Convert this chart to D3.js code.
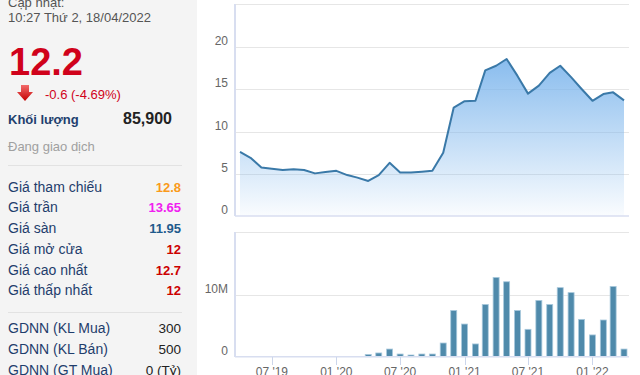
<!DOCTYPE html>
<html>
<head>
<meta charset="utf-8">
<script src="https://cdn.jsdelivr.net/npm/d3@7"></script>
<style>
  html, body { margin: 0; padding: 0; background: #fff; }
  svg { display: block; font-family: "Liberation Sans", Arial, sans-serif; }
</style>
</head>
<body>
<svg id="chart" width="640" height="375"></svg>
<script>
// dữ liệu theo tháng, 04/2019 -> 04/2022
const months = d3.timeMonths(new Date(2019, 3, 1), new Date(2022, 3, 2));
const closePrices = [7.6, 6.9, 5.75, 5.6, 5.45, 5.55, 5.45, 5.05, 5.2, 5.35, 4.85, 4.55, 4.15,
  4.85, 6.3, 5.15, 5.15, 5.25, 5.35, 7.5, 12.85, 13.6, 13.65, 17.25, 17.8, 18.6,
  16.6, 14.5, 15.45, 16.95, 17.8, 16.45, 15.05, 13.65, 14.45, 14.65, 13.7];
// khối lượng (triệu cp), 0 = không có giao dịch
const volumes = [0, 0, 0, 0, 0, 0, 0, 0, 0, 0, 0, 0, 0.37,
  0.6, 1.23, 0.43, 0.27, 0.43, 0.43, 2.2, 7.43, 5.25, 2.05, 8.4, 12.75, 12.05,
  7.43, 4.4, 9.05, 8.4, 11.1, 10.3, 6.0, 3.5, 5.9, 11.3, 1.23];
const priceTicks = [0, 5, 10, 15, 20];
const volumeTicks = [0, 10];
const xTicks = d3.timeMonths(new Date(2019, 6, 1), new Date(2022, 0, 2), 6);

const infoRows = ["Giá tham chiếu", "Giá trần", "Giá sàn", "Giá mở cửa", "Giá cao nhất", "Giá thấp nhất"];
const infoValues = ["12.8", "13.65", "11.95", "12", "12.7", "12"];
const infoColors = ["#fa9a1a", "#f020f0", "#1e5a8c", "#cc0000", "#cc0000", "#cc0000"];
const foreignRows = ["GDNN (KL Mua)", "GDNN (KL Bán)", "GDNN (GT Mua)"];
const foreignValues = ["300", "500", "0 (Tỷ)"];

const svg = d3.select("#chart");

// ---- khung bên trái ----
svg.append("rect").attr("x", 0).attr("y", 0).attr("width", 197).attr("height", 375).attr("fill", "#f4f4f4");

svg.append("text").attr("x", 8).attr("y", 7).attr("font-size", 13).attr("fill", "#555").text("Cập nhật:");
svg.append("text").attr("x", 8).attr("y", 22).attr("font-size", 13).attr("fill", "#555").text("10:27 Thứ 2, 18/04/2022");
svg.append("text").attr("x", 9).attr("y", 75).attr("font-size", 38).attr("font-weight", "bold")
  .attr("fill", "#d0021b").text("12.2");

const arrowGrad = svg.append("defs").append("linearGradient").attr("id", "arrowGrad")
  .attr("x1", 0).attr("y1", 0).attr("x2", 0).attr("y2", 1);
arrowGrad.append("stop").attr("offset", 0).attr("stop-color", "#f26b6b");
arrowGrad.append("stop").attr("offset", 1).attr("stop-color", "#c40000");
svg.append("path").attr("d", "M21,85 H29 V92 H33 L25,101 L17,92 H21 Z").attr("fill", "url(#arrowGrad)");
svg.append("text").attr("x", 45).attr("y", 99).attr("font-size", 13).attr("fill", "#d0021b").text("-0.6 (-4.69%)");

svg.append("text").attr("x", 8).attr("y", 124).attr("font-size", 13).attr("font-weight", "bold")
  .attr("fill", "#1f3f6e").text("Khối lượng");
svg.append("text").attr("x", 172).attr("y", 124).attr("font-size", 16).attr("font-weight", "bold")
  .attr("text-anchor", "end").attr("fill", "#222").text("85,900");
svg.append("text").attr("x", 8).attr("y", 151).attr("font-size", 13).attr("fill", "#a0a0a0").text("Đang giao dịch");

[165, 312].forEach(y => {
  svg.append("line").attr("x1", 8).attr("x2", 182).attr("y1", y + 0.5).attr("y2", y + 0.5).attr("stroke", "#e2e2e2");
});

const rowY = i => 191.7 + i * 20.7;
infoRows.forEach((label, i) => {
  svg.append("text").attr("x", 8).attr("y", rowY(i)).attr("font-size", 14).attr("fill", "#1f3d6c").text(label);
  svg.append("text").attr("x", 181).attr("y", rowY(i)).attr("font-size", 13).attr("font-weight", "bold")
    .attr("text-anchor", "end").attr("fill", infoColors[i]).text(infoValues[i]);
});
foreignRows.forEach((label, i) => {
  const y = 333.3 + i * 20.8;
  svg.append("text").attr("x", 8).attr("y", y).attr("font-size", 14).attr("fill", "#1f3d6c").text(label);
  svg.append("text").attr("x", 181).attr("y", y).attr("font-size", 13.5).attr("text-anchor", "end")
    .attr("fill", "#222").text(foreignValues[i]);
});

// ---- biểu đồ ----
const plotLeft = 235, plotRight = 629;
const x = d3.scaleTime().domain([months[0], months[months.length - 1]]).range([240, 624]);
const yPrice = d3.scaleLinear().domain([0, 25]).range([216, 5]);
const yVol = d3.scaleLinear().domain([0, 20]).range([356.7, 232.3]);

// đường lưới
svg.append("g").selectAll("line").data(priceTicks.filter(d => d > 0)).join("line")
  .attr("x1", plotLeft).attr("x2", plotRight)
  .attr("y1", d => Math.round(yPrice(d)) + 0.5).attr("y2", d => Math.round(yPrice(d)) + 0.5)
  .attr("stroke", "#e6e6e6");
svg.append("line").attr("x1", plotLeft).attr("x2", plotRight).attr("y1", 4.5).attr("y2", 4.5).attr("stroke", "#e6e6e6");
svg.append("g").selectAll("line").data(volumeTicks.filter(d => d > 0)).join("line")
  .attr("x1", plotLeft).attr("x2", plotRight)
  .attr("y1", d => Math.round(yVol(d)) + 0.5).attr("y2", d => Math.round(yVol(d)) + 0.5)
  .attr("stroke", "#e6e6e6");
svg.append("line").attr("x1", plotLeft).attr("x2", plotRight).attr("y1", 232.5).attr("y2", 232.5).attr("stroke", "#e6e6e6");

// nhãn trục y
svg.append("g").selectAll("text").data(priceTicks).join("text")
  .attr("x", 228).attr("y", d => yPrice(d) - 2).attr("text-anchor", "end")
  .attr("font-size", 12).attr("fill", "#666").text(d => d);
svg.append("g").selectAll("text").data(volumeTicks).join("text")
  .attr("x", 228).attr("y", d => yVol(d) - 2).attr("text-anchor", "end")
  .attr("font-size", 12).attr("fill", "#666").text(d => d === 0 ? "0" : d + "M");

// vùng giá
const areaGrad = svg.select("defs").append("linearGradient").attr("id", "areaGrad")
  .attr("gradientUnits", "userSpaceOnUse").attr("x1", 0).attr("y1", 50).attr("x2", 0).attr("y2", 216);
areaGrad.append("stop").attr("offset", 0).attr("stop-color", "#7cb5ec").attr("stop-opacity", 0.95);
areaGrad.append("stop").attr("offset", 1).attr("stop-color", "#7cb5ec").attr("stop-opacity", 0.04);

const priceData = months.map((d, i) => ({ date: d, value: closePrices[i] }));
svg.append("path").datum(priceData)
  .attr("fill", "url(#areaGrad)")
  .attr("d", d3.area().x(d => x(d.date)).y0(yPrice(0)).y1(d => yPrice(d.value)));
svg.append("path").datum(priceData)
  .attr("fill", "none").attr("stroke", "#3a79a8").attr("stroke-width", 2).attr("stroke-linejoin", "round")
  .attr("d", d3.line().x(d => x(d.date)).y(d => yPrice(d.value)));

// cột khối lượng
const volData = months.map((d, i) => ({ date: d, value: volumes[i] })).filter(d => d.value > 0);
svg.append("g").selectAll("rect").data(volData).join("rect")
  .attr("x", d => x(d.date) - 3).attr("width", 6)
  .attr("y", d => yVol(d.value)).attr("height", d => yVol(0) - yVol(d.value))
  .attr("fill", "#4f8aab").attr("stroke", "#a9c9dd").attr("stroke-width", 0.8);

// trục
[216, 356.7].forEach(y => {
  svg.append("line").attr("x1", plotLeft).attr("x2", plotRight).attr("y1", y).attr("y2", y)
    .attr("stroke", "#d8def0").attr("stroke-width", 1.5);
});
svg.append("line").attr("x1", plotLeft).attr("x2", plotLeft).attr("y1", 4).attr("y2", 216)
  .attr("stroke", "#d8def0").attr("stroke-width", 2);
svg.append("line").attr("x1", plotLeft).attr("x2", plotLeft).attr("y1", 232).attr("y2", 357)
  .attr("stroke", "#d8def0").attr("stroke-width", 2);

svg.append("g").selectAll("line").data(xTicks).join("line")
  .attr("x1", d => Math.round(x(d)) + 0.5).attr("x2", d => Math.round(x(d)) + 0.5)
  .attr("y1", 357).attr("y2", 365).attr("stroke", "#ccd6eb");
svg.append("g").selectAll("text").data(xTicks).join("text")
  .attr("x", d => x(d)).attr("y", 375.5).attr("text-anchor", "middle")
  .attr("font-size", 12).attr("fill", "#666").text(d3.timeFormat("%m '%y"));
</script>
</body>
</html>
